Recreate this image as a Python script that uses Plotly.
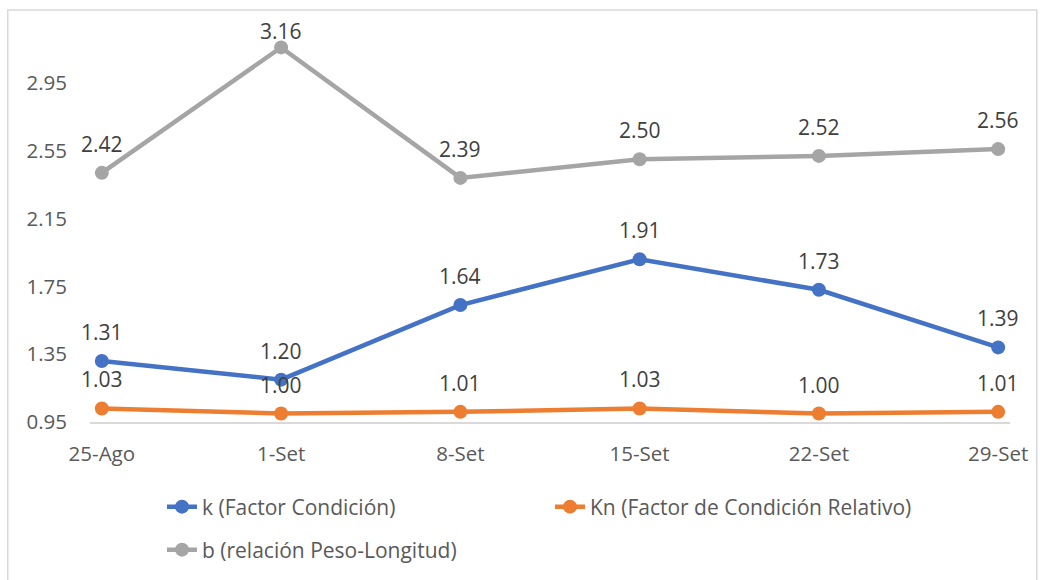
import plotly.graph_objects as go

# Sampling dates and the three condition indices
fechas = ["25-Ago", "1-Set", "8-Set", "15-Set", "22-Set", "29-Set"]
k_factor = [1.31, 1.20, 1.64, 1.91, 1.73, 1.39]
kn_relativo = [1.03, 1.00, 1.01, 1.03, 1.00, 1.01]
b_peso_long = [2.42, 3.16, 2.39, 2.50, 2.52, 2.56]

y_ticks = [0.95, 1.35, 1.75, 2.15, 2.55, 2.95]

FONT = "Open Sans"
TXT = "#595959"
LBL = "#404040"

# plot area geometry (px)
TOP_M, BOT_M, LEFT_M, RIGHT_M = 20, 158, 90, 22
PLOT_H = 580 - TOP_M - BOT_M
Y0 = 0.95
Y1 = Y0 + PLOT_H / 169.5

series = [
    ("k (Factor Condición)", k_factor, "#4472C4", "legend"),
    ("Kn (Factor de Condición Relativo)", kn_relativo, "#ED7D31", "legend2"),
    ("b (relación Peso-Longitud)", b_peso_long, "#A5A5A5", "legend3"),
]

fig = go.Figure()
annotations = []
for name, vals, color, leg in series:
    fig.add_trace(go.Scatter(
        x=fechas, y=vals, name=name, mode="lines+markers",
        line=dict(color=color, width=4.5),
        marker=dict(color=color, size=14),
        legend=leg, cliponaxis=False, showlegend=True,
    ))
    for f, v in zip(fechas, vals):
        # keep value labels inside the chart frame near the top edge
        dist_top = (Y1 - v) / (Y1 - Y0) * PLOT_H + TOP_M
        shift = min(29, dist_top - 31)
        annotations.append(dict(
            x=f, y=v, xref="x", yref="y", text=f"{v:.2f}",
            showarrow=False, yshift=shift,
            font=dict(family=FONT, size=21, color=LBL),
        ))

legend_common = dict(
    orientation="h", xref="container", yref="container",
    xanchor="left", yanchor="middle", bgcolor="rgba(0,0,0,0)",
    font=dict(family=FONT, size=21, color=TXT),
)

fig.update_layout(
    width=1040, height=580,
    margin=dict(l=LEFT_M, r=RIGHT_M, t=TOP_M, b=BOT_M),
    paper_bgcolor="white", plot_bgcolor="white",
    font=dict(family=FONT, size=20, color=TXT),
    showlegend=True,
    annotations=annotations,
    legend=dict(legend_common, x=162 / 1040, y=1 - 507 / 580),
    legend2=dict(legend_common, x=550 / 1040, y=1 - 507 / 580),
    legend3=dict(legend_common, x=162 / 1040, y=1 - 550 / 580),
    xaxis=dict(
        type="category", range=[-0.066, 5.066],
        showgrid=False, zeroline=False,
        showline=True, linecolor="#D9D9D9", linewidth=1.5,
        ticks="", ticklabelstandoff=13,
        tickfont=dict(family=FONT, size=20.5, color=TXT),
    ),
    yaxis=dict(
        range=[Y0, Y1],
        tickvals=y_ticks, ticktext=[f"{t:.2f}" for t in y_ticks],
        showgrid=False, zeroline=False, showline=False,
        ticks="", ticklabelstandoff=22,
        tickfont=dict(family=FONT, size=20.5, color=TXT),
    ),
    shapes=[dict(
        type="rect", xref="paper", yref="paper",
        x0=(7 - 90) / 928, x1=(1045 - 90) / 928,
        y0=-(590 - 422) / 402, y1=(422 - 10) / 402,
        line=dict(color="#D9D9D9", width=1.5), layer="below",
    )],
)

fig.write_html("out.html")
